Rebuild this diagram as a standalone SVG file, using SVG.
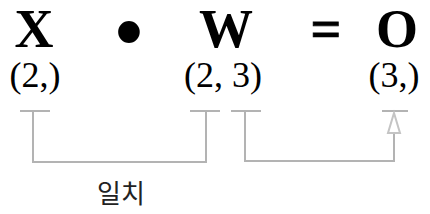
<svg xmlns="http://www.w3.org/2000/svg" width="430" height="214" viewBox="0 0 430 214">
<style>
.big{font-family:"Liberation Serif","Times New Roman",serif;font-weight:bold;font-size:54px;fill:#000;text-anchor:middle}
.dot{stroke:#000;stroke-width:7;stroke-linejoin:round}
.eq{stroke:#000;stroke-width:0.8}
.shape{font-family:"Liberation Serif","Times New Roman",serif;font-size:36px;fill:#000;text-anchor:middle}
.lbl{font-family:"Noto Sans CJK KR","Noto Sans",sans-serif;font-size:26px;fill:#222;text-anchor:middle}
.ln{fill:none;stroke:#b3b3b3;stroke-width:2}
</style>
<rect width="430" height="214" fill="#fff"/>
<g id="X"><text class="big" x="34" y="47">X</text><text class="shape" x="35" y="87">(2,)</text></g>
<g id="dot"><text class="big dot" x="129" y="50">•</text></g>
<g id="W"><text class="big" x="226" y="47">W</text><text class="shape" x="223" y="87">(2, 3)</text></g>
<g id="eq"><text class="big eq" x="326" y="47">=</text></g>
<g id="O"><text class="big" x="397" y="47">O</text><text class="shape" x="394" y="87">(3,)</text></g>
<g id="connectors">
<path class="ln" d="M20,111 H50 M33,111 V162 H206 V111 M190,111 H220"/>
<path class="ln" d="M231,111 H261 M382,111 H408"/>
<path class="ln" d="M245,111 V161 H394 V114" stroke="#c4c4c4"/>
<path d="M394,113 L400,133 L388,133 Z" fill="#fff" stroke="#c4c4c4" stroke-width="2" stroke-linejoin="miter"/>
</g>
<g id="label"><text class="lbl" x="121" y="203">일치</text></g>
</svg>
